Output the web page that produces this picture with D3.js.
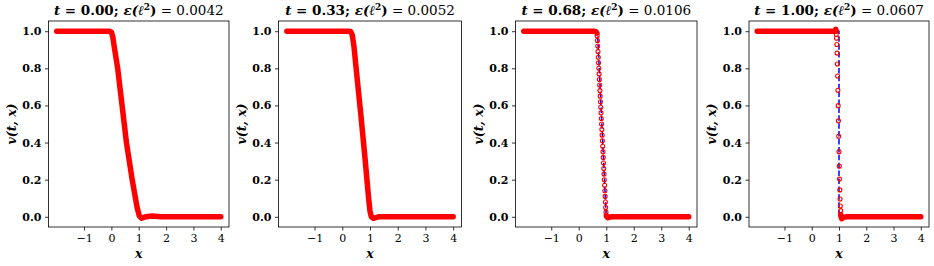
<!DOCTYPE html>
<html>
<head>
<meta charset="utf-8">
<style>
  body { margin: 0; background: #fff; }
  svg text { font-family: "DejaVu Serif", "Liberation Serif", serif; }
  .tick text { font-size: 11px; }
</style>
</head>
<body>
<svg width="934" height="266"></svg>
<script src="https://cdn.jsdelivr.net/npm/d3@7"></script>
<script>
// times and errors shown in titles
var times = ["0.00", "0.33", "0.68", "1.00"];
var errors = ["0.0042", "0.0052", "0.0106", "0.0607"];

var xTicks = [-1, 0, 1, 2, 3, 4];
var yTicks = [0.0, 0.2, 0.4, 0.6, 0.8, 1.0];

// exact solution (blue dashed)
var exactX = [
  [-2, 0, 1, 4],
  [-2, 0.33, 1, 4],
  [-2, 0.68, 1, 4],
  [-2, 1, 1, 4]
];
var exactY = [
  [1, 1, 0, 0],
  [1, 1, 0, 0],
  [1, 1, 0, 0],
  [1, 1, 0, 0]
];

// prediction, dense part (markers overlap into a thick band)
var bandX = [
  [[-2, -0.5, -0.1, 0.0, 0.05, 0.1, 0.23, 0.39, 0.55, 0.76, 0.94, 1.02, 1.1, 1.25, 1.5, 1.8, 4]],
  [[-2, 0.2, 0.3, 0.36, 0.42, 0.5, 0.67, 0.83, 0.95, 1.0, 1.05, 1.12, 1.3, 4]],
  [[-2, 0.55, 0.62, 0.66], [1.01, 1.05, 1.1, 1.2, 4]],
  [[-2, 0.85, 0.88, 0.9], [1.07, 1.1, 1.15, 1.3, 4]]
];
var bandY = [
  [[1.0, 1.0, 1.0, 0.995, 0.97, 0.92, 0.8, 0.6, 0.4, 0.2, 0.05, 0.005, -0.008, 0.0, 0.004, 0.0, 0.0]],
  [[1.0, 1.0, 0.998, 0.98, 0.92, 0.8, 0.55, 0.3, 0.1, 0.03, 0.0, -0.008, 0.0, 0.0]],
  [[1.0, 1.0, 0.998, 0.99], [0.002, -0.005, -0.002, 0.0, 0.0]],
  [[1.0, 1.0, 1.01, 1.0], [0.005, -0.01, -0.003, 0.0, 0.0]]
];

// prediction, separated markers on the steep part
var markX = [
  [],
  [],
  [0.67, 0.68, 0.69, 0.70, 0.71, 0.72, 0.73, 0.74, 0.75, 0.76, 0.77, 0.78, 0.79, 0.80, 0.81, 0.82, 0.83,
   0.84, 0.85, 0.86, 0.87, 0.88, 0.89, 0.90, 0.91, 0.92, 0.93, 0.94, 0.95, 0.96, 0.97, 0.98, 0.99, 1.00],
  [0.90, 0.91, 0.92, 0.93, 0.94, 0.95, 0.96, 0.97, 0.98, 0.99, 1.00, 1.01, 1.02, 1.03, 1.04, 1.05, 1.06, 1.07]
];
var markY = [
  [],
  [],
  [0.975, 0.95, 0.92, 0.89, 0.86, 0.83, 0.80, 0.77, 0.74, 0.71, 0.68, 0.65, 0.62, 0.59, 0.56, 0.53, 0.50,
   0.47, 0.44, 0.41, 0.38, 0.35, 0.32, 0.29, 0.26, 0.23, 0.20, 0.17, 0.14, 0.11, 0.08, 0.05, 0.025, 0.01],
  [0.982, 0.962, 0.928, 0.882, 0.823, 0.759, 0.682, 0.599, 0.517, 0.434, 0.351, 0.273, 0.203, 0.145, 0.096, 0.058, 0.033, 0.014]
];

var svg = d3.select("svg");
var lefts = [48.5, 278.5, 515.5, 749];
var widths = [180.5, 183, 181.5, 180];
var marginTop = 21, h = 206;

times.forEach(function (t, i) {
  var x = d3.scaleLinear().domain([-2.3, 4.3]).range([0, widths[i]]);
  var y = d3.scaleLinear().domain([-0.055, 1.055]).range([h, 0]);
  var g = svg.append("g").attr("transform", "translate(" + lefts[i] + "," + marginTop + ")");

  var line = d3.line().x(function (d) { return x(d[0]); }).y(function (d) { return y(d[1]); });

  // exact
  g.append("path")
    .datum(d3.zip(exactX[i], exactY[i]))
    .attr("d", line)
    .attr("fill", "none")
    .attr("stroke", "#0000ff")
    .attr("stroke-width", 1.5)
    .attr("stroke-dasharray", "5.5,2.4");

  // prediction band
  bandX[i].forEach(function (bx, k) {
    g.append("path")
      .datum(d3.zip(bx, bandY[i][k]))
      .attr("d", line)
      .attr("fill", "none")
      .attr("stroke", "#ff0000")
      .attr("stroke-width", 5.5)
      .attr("stroke-linecap", "round")
      .attr("stroke-linejoin", "round");
  });

  // prediction markers
  g.selectAll("circle.m")
    .data(d3.zip(markX[i], markY[i]))
    .enter().append("circle")
    .attr("class", "m")
    .attr("cx", function (d) { return x(d[0]); })
    .attr("cy", function (d) { return y(d[1]); })
    .attr("r", 2)
    .attr("fill", "none")
    .attr("stroke", "#ff0000")
    .attr("stroke-width", 1.1);

  // axes
  var xa = g.append("g").attr("transform", "translate(0," + h + ")")
    .call(d3.axisBottom(x).tickValues(xTicks).tickSize(3.5).tickPadding(3.5)
      .tickFormat(function (d) { return d < 0 ? "\u2212" + Math.abs(d) : d; }));
  var ya = g.append("g")
    .call(d3.axisLeft(y).tickValues(yTicks).tickSize(3.5).tickPadding(3.5).tickFormat(d3.format(".1f")));
  ya.selectAll("text").attr("font-weight", "bold");
  [xa, ya].forEach(function (a) {
    a.select(".domain").remove();
    a.selectAll("line").attr("stroke", "#000").attr("stroke-width", 0.8);
    a.selectAll("text").attr("fill", "#000").attr("font-family", null).attr("font-size", null);
  });

  g.append("rect")
    .attr("width", widths[i]).attr("height", h)
    .attr("fill", "none").attr("stroke", "#000").attr("stroke-width", 0.8);

  // title
  var title = g.append("text")
    .attr("x", widths[i] / 2).attr("y", -6)
    .attr("text-anchor", "middle")
    .attr("font-size", 13.5);
  title.append("tspan").attr("font-weight", "bold").attr("font-style", "italic").text("t");
  title.append("tspan").attr("font-weight", "bold").text(" = " + t + ";");
  title.append("tspan").attr("font-weight", "bold").attr("font-style", "italic").text(" \u03b5(\u2113");
  title.append("tspan").attr("font-weight", "bold").attr("font-size", 9).attr("dy", -5).text("2");
  title.append("tspan").attr("font-weight", "bold").attr("dy", 5).text(")");
  title.append("tspan").text(" = " + errors[i]);

  // axis labels
  g.append("text")
    .attr("x", widths[i] / 2).attr("y", h + 31)
    .attr("text-anchor", "middle")
    .attr("font-size", 12.5).attr("font-weight", "bold").attr("font-style", "italic")
    .text("x");
  g.append("text")
    .attr("transform", "translate(-33," + (h / 2) + ") rotate(-90)")
    .attr("text-anchor", "middle")
    .attr("font-size", 12.5).attr("font-weight", "bold").attr("font-style", "italic")
    .text("v(t, x)");
});
</script>
</body>
</html>
